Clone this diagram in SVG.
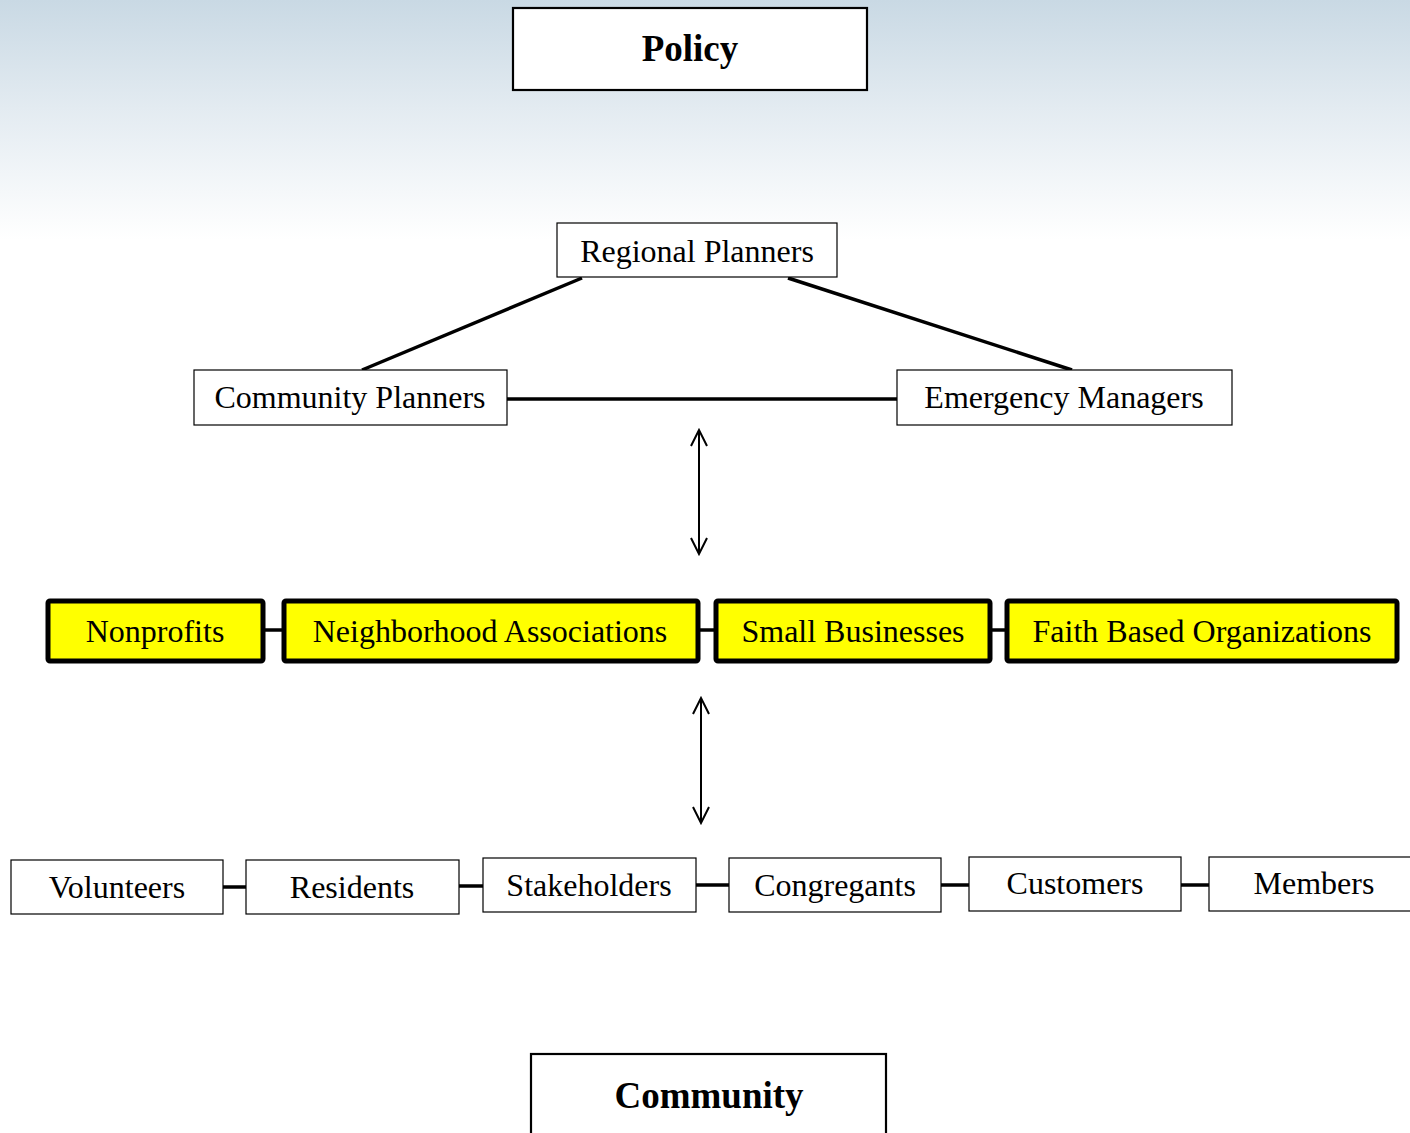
<svg xmlns="http://www.w3.org/2000/svg" width="1410" height="1133" viewBox="0 0 1410 1133">
<defs>
<linearGradient id="sky" x1="0" y1="0" x2="0" y2="1">
<stop offset="0" stop-color="#c9d9e4"/>
<stop offset="0.45" stop-color="#e3ebf1"/>
<stop offset="1" stop-color="#ffffff"/>
</linearGradient>
<marker id="open" viewBox="0 0 20 20" refX="18" refY="10" markerWidth="20" markerHeight="20" markerUnits="userSpaceOnUse" orient="auto-start-reverse">
<path d="M2,2 L18,10 L2,18" fill="none" stroke="#000" stroke-width="2"/>
</marker>
<style>
.t{font-family:"Liberation Serif","Times New Roman",serif;font-size:32px;fill:#000;text-anchor:middle}
.b{font-weight:bold;font-size:37px}
.box{fill:#fff;stroke:#000;stroke-width:1.2}
.big{fill:#fff;stroke:#000;stroke-width:2.2}
.y{fill:#ffff00;stroke:#000;stroke-width:5}
.c{stroke:#000;stroke-width:3.5;fill:none}
.a{stroke:#000;stroke-width:2;fill:none}
</style>
</defs>
<rect x="0" y="0" width="1410" height="240" fill="url(#sky)"/>
<rect x="0" y="240" width="1410" height="893" fill="#fff"/>
<g id="connectors">
<line class="c" x1="582" y1="278" x2="362" y2="370"/>
<line class="c" x1="788" y1="278" x2="1072" y2="370"/>
<line class="c" x1="507" y1="399" x2="897" y2="399"/>
<line class="a" x1="699" y1="430" x2="699" y2="554" marker-start="url(#open)" marker-end="url(#open)"/>
<line class="c" x1="263" y1="630" x2="284" y2="630"/>
<line class="c" x1="698" y1="630" x2="716" y2="630"/>
<line class="c" x1="990" y1="630" x2="1007" y2="630"/>
<line class="a" x1="701" y1="698" x2="701" y2="823" marker-start="url(#open)" marker-end="url(#open)"/>
<line class="c" x1="223" y1="887" x2="246" y2="887"/>
<line class="c" x1="459" y1="886" x2="483" y2="886"/>
<line class="c" x1="696" y1="885" x2="729" y2="885"/>
<line class="c" x1="941" y1="885" x2="969" y2="885"/>
<line class="c" x1="1181" y1="885" x2="1209" y2="885"/>
</g>
<g id="policy"><rect class="big" x="513" y="8" width="354" height="82"/><text class="t b" x="690" y="61">Policy</text></g>
<g id="regional"><rect class="box" x="557" y="223" width="280" height="54"/><text class="t" x="697" y="262">Regional Planners</text></g>
<g id="community-planners"><rect class="box" x="194" y="370" width="313" height="55"/><text class="t" x="350" y="408">Community Planners</text></g>
<g id="emergency"><rect class="box" x="897" y="370" width="335" height="55"/><text class="t" x="1064" y="408">Emergency Managers</text></g>
<g id="nonprofits"><rect class="y" x="48" y="601" width="215" height="60" rx="2"/><text class="t" x="155" y="642">Nonprofits</text></g>
<g id="neighborhood"><rect class="y" x="284" y="601" width="414" height="60" rx="2"/><text class="t" x="490" y="642">Neighborhood Associations</text></g>
<g id="small-business"><rect class="y" x="716" y="601" width="274" height="60" rx="2"/><text class="t" x="853" y="642">Small Businesses</text></g>
<g id="faith"><rect class="y" x="1007" y="601" width="390" height="60" rx="2"/><text class="t" x="1202" y="642">Faith Based Organizations</text></g>
<g id="volunteers"><rect class="box" x="11" y="860" width="212" height="54"/><text class="t" x="117" y="898">Volunteers</text></g>
<g id="residents"><rect class="box" x="246" y="860" width="213" height="54"/><text class="t" x="352" y="898">Residents</text></g>
<g id="stakeholders"><rect class="box" x="483" y="858" width="213" height="54"/><text class="t" x="589" y="896">Stakeholders</text></g>
<g id="congregants"><rect class="box" x="729" y="858" width="212" height="54"/><text class="t" x="835" y="896">Congregants</text></g>
<g id="customers"><rect class="box" x="969" y="857" width="212" height="54"/><text class="t" x="1075" y="894">Customers</text></g>
<g id="members"><rect class="box" x="1209" y="857" width="210" height="54"/><text class="t" x="1314" y="894">Members</text></g>
<g id="community"><rect class="big" x="531" y="1054" width="355" height="90"/><text class="t b" x="709" y="1108">Community</text></g>
</svg>
